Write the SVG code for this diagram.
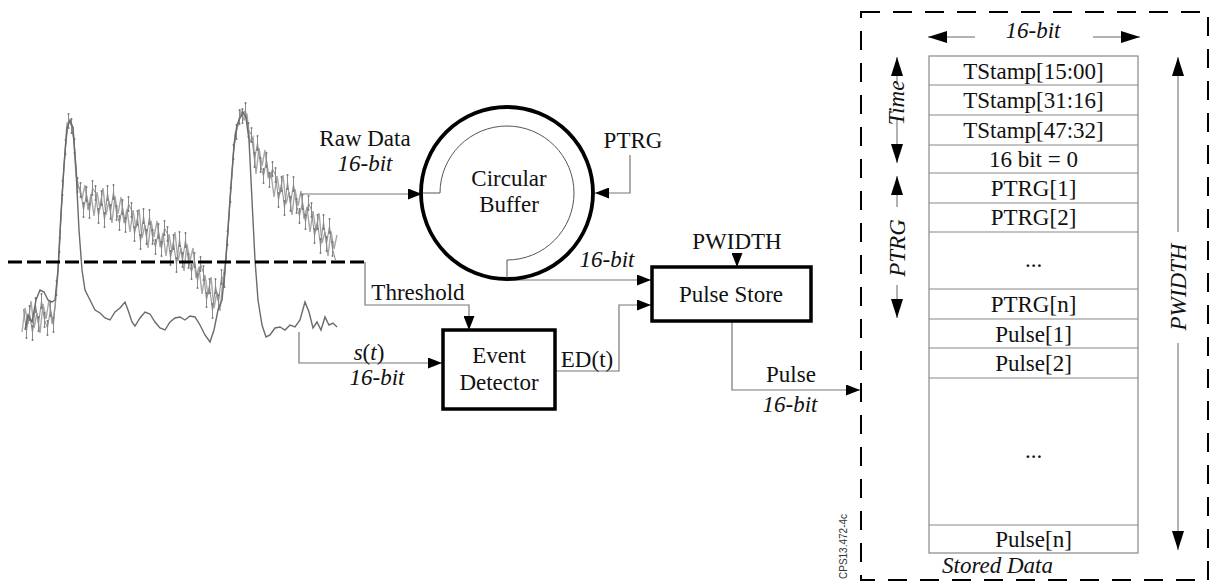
<svg xmlns="http://www.w3.org/2000/svg" width="1211" height="582" viewBox="0 0 1211 582">
<defs>
<style>
text{font-family:"Liberation Serif","Times New Roman",serif;font-size:23px;fill:#111}
.it{font-style:italic}
.mid{text-anchor:middle}
.conn{fill:none;stroke:#777;stroke-width:1.2}
.thin{fill:none;stroke:#555;stroke-width:1}
.box{fill:#fff;stroke:#000;stroke-width:3.5}
.row{fill:none;stroke:#888;stroke-width:1.2}
.dim{fill:none;stroke:#666;stroke-width:1}
.raw{fill:none;stroke:#a8a8a8;stroke-width:1.4}
.raw2{fill:none;stroke:#8c8c8c;stroke-width:1}
.smooth{fill:none;stroke:#6a6a6a;stroke-width:1.4}
</style>
<marker id="ah" markerUnits="userSpaceOnUse" markerWidth="14" markerHeight="11" refX="14" refY="5.5" orient="auto"><path d="M0,0 L14,5.5 L0,11 z" fill="#000"/></marker>
<marker id="ahb" markerUnits="userSpaceOnUse" markerWidth="19" markerHeight="12" refX="19" refY="6" orient="auto"><path d="M0,0 L19,6 L0,12 z" fill="#000"/></marker>
<marker id="bar" markerUnits="userSpaceOnUse" markerWidth="4" markerHeight="20" refX="2" refY="10" overflow="visible"><path d="M2,3 V17" stroke="#8a8a8a" stroke-width="1"/><circle cx="2" cy="3" r="1" fill="#777"/><circle cx="2" cy="17" r="1" fill="#777"/></marker>
</defs>
<rect width="1211" height="582" fill="#fff"/>

<g id="signal-plot">
<polyline class="raw" points="22,332 25,308 28,324 31,301 34,328 37,313 40,333 43,304 46,319 49,300 52,324 55,308 58,274 61,212 64,167 67,123 70,123 73,127 76,175 79,188 82,199 85,185 88,210 91,194 94,216 97,192 100,209 103,188 106,215 109,201 112,223 115,196 118,214 121,197 124,223 127,209 130,232 133,210 136,228 139,209 142,238 145,225 148,248 151,221 154,237 157,221 160,247 163,233 166,256 169,234 172,252 175,232 178,261 181,248 184,271 187,244 190,261 193,248 196,278 199,267 202,294 205,275 208,295 211,277 214,308 217,292 220,311 223,279 226,258 229,213 232,174 235,134 238,125 241,111 244,120 247,115 250,142 253,137 256,174 259,148 262,166 265,150 268,177 271,173 274,197 277,176 280,194 283,175 286,204 289,192 292,215 295,189 298,206 301,191 304,219 307,207 310,232 313,211 316,231 319,213 322,243 325,232 328,256 331,231 334,249 337,235"/>
<polyline class="raw2" marker-mid="url(#bar)" points="23.5,309 26.5,331 29.5,313 32.5,333 35.5,305 38.5,324 41.5,301 44.5,320 47.5,328 50.5,309 53.5,325 56.5,288 59.5,245 62.5,188 65.5,147 68.5,121 71.5,126 74.5,146 77.5,185 80.5,190 83.5,210 86.5,194 89.5,211 92.5,188 95.5,193 98.5,216 101.5,198 104.5,220 107.5,193 110.5,212 113.5,192 116.5,213 119.5,223 122.5,207 125.5,225 128.5,204 131.5,210 134.5,234 137.5,218 140.5,242 143.5,216 146.5,237 149.5,217 152.5,237 155.5,247 158.5,231 161.5,249 164.5,228 167.5,234 170.5,258 173.5,242 176.5,265 179.5,239 182.5,260 185.5,240 188.5,261 191.5,272 194.5,260 197.5,281 200.5,264 203.5,273 206.5,300 209.5,286 212.5,311 215.5,286 218.5,302 221.5,277 224.5,280 227.5,238 230.5,195 233.5,152 236.5,132 239.5,117 242.5,116 245.5,110 248.5,130 251.5,135 254.5,160 257.5,143 260.5,165 263.5,176 266.5,160 269.5,180 272.5,169 275.5,175 278.5,200 281.5,184 284.5,208 287.5,182 290.5,204 293.5,184 296.5,206 299.5,216 302.5,202 305.5,222 308.5,203 311.5,210 314.5,236 317.5,222 320.5,246 323.5,222 326.5,244 329.5,226 332.5,249 335.5,260"/>
<polyline class="smooth" points="25,330 28,315 32,322 36,300 40,290 44,292 48,300 52,302 55,300 58,270 61,215 64,165 67,128 70,120 73,128 76,170 79,230 82,270 85,290 90,300 95,310 100,313 105,318 110,320 115,312 120,308 125,302 128,310 132,322 135,326 140,318 145,312 150,314 155,322 160,328 165,330 170,322 175,318 180,317 185,320 190,316 195,317 200,325 205,335 210,342 214,330 218,310 222,300 225,270 228,230 231,185 234,145 237,125 240,118 243,112 246,118 249,140 252,200 255,260 258,300 262,325 266,337 270,335 275,328 280,327 285,330 290,325 295,327 300,320 305,302 309,312 313,328 317,322 321,330 325,317 329,325 333,323 337,327"/>
<line x1="8" y1="262" x2="365" y2="262" stroke="#000" stroke-width="3" stroke-dasharray="14 5"/>
</g>

<g id="connectors">
<path class="conn" d="M300,194 H422" marker-end="url(#ah)"/>
<path class="conn" d="M630,155 V193 H595" marker-end="url(#ah)"/>
<path class="conn" d="M507,280 H651" marker-end="url(#ah)"/>
<path class="conn" d="M737,255 V267" marker-end="url(#ah)"/>
<path class="conn" d="M365,262 V305 H469 V330" marker-end="url(#ah)"/>
<path class="conn" d="M299,332 V363 H442" marker-end="url(#ah)"/>
<path class="conn" d="M555,371 H619 V305 H651" marker-end="url(#ah)"/>
<path class="conn" d="M732,321 V390 H860" marker-end="url(#ah)"/>
</g>

<g id="circular-buffer">
<circle cx="507" cy="193" r="86" fill="none" stroke="#000" stroke-width="3.8"/>
<path class="thin" d="M423,193 H440 A67,67 0 1 1 507,260 V278"/>
<text class="mid" x="509" y="186">Circular</text>
<text class="mid" x="509" y="212">Buffer</text>
</g>

<g id="event-detector">
<rect class="box" x="443" y="330" width="112" height="79"/>
<text class="mid" x="499" y="363">Event</text>
<text class="mid" x="499" y="390">Detector</text>
</g>

<g id="pulse-store">
<rect class="box" x="652" y="267" width="159" height="54"/>
<text class="mid" x="731" y="302">Pulse Store</text>
</g>

<g id="labels">
<text class="mid" x="365" y="146">Raw Data</text>
<text class="mid it" x="365" y="171">16-bit</text>
<text class="mid" x="633" y="148">PTRG</text>
<text class="mid it" x="607" y="267">16-bit</text>
<text class="mid" x="737" y="249">PWIDTH</text>
<text class="mid" x="418" y="300">Threshold</text>
<text class="mid" x="369" y="360"><tspan class="it">s</tspan>(<tspan class="it">t</tspan>)</text>
<text class="mid it" x="377" y="385">16-bit</text>
<text class="mid" x="587" y="367">ED(t)</text>
<text class="mid" x="791" y="382">Pulse</text>
<text class="mid it" x="790" y="412">16-bit</text>
</g>

<g id="stored-data">
<rect x="861" y="12" width="347" height="568" fill="none" stroke="#000" stroke-width="2" stroke-dasharray="19 13"/>
<rect class="row" x="929" y="56" width="209" height="497"/>
<path class="row" d="M929,85 H1138 M929,115 H1138 M929,145 H1138 M929,173 H1138 M929,203 H1138 M929,232 H1138 M929,289 H1138 M929,319 H1138 M929,348 H1138 M929,378 H1138 M929,525 H1138"/>
<text class="mid" x="1033.5" y="79">TStamp[15:00]</text>
<text class="mid" x="1033.5" y="108">TStamp[31:16]</text>
<text class="mid" x="1033.5" y="138">TStamp[47:32]</text>
<text class="mid" x="1033.5" y="167">16 bit = 0</text>
<text class="mid" x="1033.5" y="196">PTRG[1]</text>
<text class="mid" x="1033.5" y="225">PTRG[2]</text>
<text class="mid" x="1033.5" y="267">...</text>
<text class="mid" x="1033.5" y="312">PTRG[n]</text>
<text class="mid" x="1033.5" y="342">Pulse[1]</text>
<text class="mid" x="1033.5" y="371">Pulse[2]</text>
<text class="mid" x="1033.5" y="458">...</text>
<text class="mid" x="1033.5" y="547">Pulse[n]</text>
<text class="it" x="942" y="573">Stored Data</text>
<path class="dim" d="M975,37 H928" marker-end="url(#ahb)"/>
<path class="dim" d="M1093,37 H1140" marker-end="url(#ahb)"/>
<text class="mid it" x="1033" y="38">16-bit</text>
<path class="dim" d="M897,85 V57" marker-end="url(#ahb)"/>
<path class="dim" d="M897,118 V163" marker-end="url(#ahb)"/>
<text class="mid it" transform="translate(904,103) rotate(-90)">Time</text>
<path class="dim" d="M897,207 V176" marker-end="url(#ahb)"/>
<path class="dim" d="M897,285 V318" marker-end="url(#ahb)"/>
<text class="mid it" transform="translate(905,248) rotate(-90)">PTRG</text>
<path class="dim" d="M1178,232 V57" marker-end="url(#ahb)"/>
<path class="dim" d="M1178,343 V550" marker-end="url(#ahb)"/>
<text class="mid it" transform="translate(1186,287) rotate(-90)">PWIDTH</text>
<text transform="translate(847,579) rotate(-90)" style="font-family:'Liberation Sans',Arial,sans-serif;font-size:10px;fill:#333">CPS13.472-4c</text>
</g>
</svg>
